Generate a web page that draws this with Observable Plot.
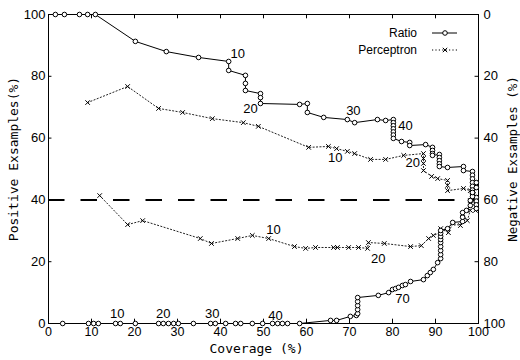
<!DOCTYPE html>
<html><head><meta charset="utf-8">
<script src="https://cdn.jsdelivr.net/npm/d3@7"></script>
<script src="https://cdn.jsdelivr.net/npm/@observablehq/plot@0.6"></script>
<style>body{margin:0;background:#fff}</style>
</head><body><div id="chart"></div>
<script>
const xTicks = [0,10,20,30,40,50,60,70,80,90,100];
const yTicks = [0,20,40,60,80,100];
const threshold = [40];

// Upper curves: negative examples (%) read on the right axis (0 at top): [coverage, negative]
const ratioNeg = [[1.6,0],[3.7,0],[7.2,0],[9.1,0],[10.9,0],[20.2,8.7],[27.4,12.0],[34.9,13.9],[41.9,15.2],[41.9,18.1],[45.8,19.7],[45.8,22.3],[45.8,24.6],[49.3,25.6],[49.3,26.9],[49.3,28.8],[58.4,29.1],[60.2,28.8],[60.2,31.7],[64.0,33.3],[69.5,34.0],[71.2,35.0],[76.5,34.0],[78.4,34.3],[80.2,34.0],[80.2,35.0],[80.2,36.0],[80.2,37.0],[80.2,38.0],[80.2,39.0],[80.2,40.1],[82.1,41.1],[84.0,41.4],[84.0,42.4],[87.7,42.1],[89.3,43.0],[89.3,44.0],[89.3,45.0],[89.3,45.6],[90.9,45.3],[90.9,46.3],[90.9,47.3],[90.9,48.3],[90.9,49.2],[92.8,49.5],[96.5,49.2],[96.5,50.5],[98.6,50.8],[98.6,52.0],[98.6,53.2],[98.6,54.4],[98.6,55.6],[98.6,56.8],[98.6,58.0],[99.5,59.2],[99.5,60.4],[99.5,61.6],[99.5,62.8]];
const percNeg = [[9.1,28.5],[18.4,23.3],[25.6,30.4],[31.2,31.7],[38.1,33.7],[45.3,35.0],[48.8,36.2],[60.5,43.0],[65.1,42.7],[67.0,43.4],[69.5,44.3],[71.2,45.0],[74.9,46.9],[78.4,46.9],[82.6,45.6],[87.2,45.0],[87.2,46.6],[87.2,48.2],[87.2,50.5],[89.1,52.4],[90.5,53.1],[92.8,53.7],[92.8,55.3],[92.8,57.0],[96.5,56.3],[98.1,57.0],[98.6,59.8],[99.3,63.4]];
// Lower curves: positive examples (%) on the left axis: [coverage, positive]
const ratioPos = [[3.3,0],[9.3,0],[10.5,0],[11.6,0],[15.6,0],[16.7,0],[20.2,0],[25.6,0],[26.7,0],[27.9,0],[29.1,0],[30.2,0],[33.7,0],[37.7,0],[38.8,0],[41.2,0],[43.5,0],[44.7,0],[47.4,0],[49.8,0],[52.1,0],[53.3,0],[54.4,0],[55.6,0],[58.4,0],[65.6,1.0],[67.0,1.0],[70.2,2.3],[71.6,2.6],[71.9,3.2],[71.9,4.5],[71.9,5.8],[71.9,7.1],[71.9,8.4],[76.7,9.1],[79.1,10.0],[80.0,11.0],[80.7,11.3],[81.4,11.7],[82.3,12.3],[83.0,12.6],[84.2,13.6],[87.2,14.2],[88.1,15.5],[88.8,16.5],[89.5,17.5],[90.5,19.7],[91.2,21.0],[91.2,22.3],[91.2,23.6],[91.2,24.9],[91.2,26.2],[91.2,27.2],[91.2,28.2],[91.2,29.2],[91.2,30.1],[92.8,30.7],[94.0,32.7],[96.3,33.0],[96.3,34.4],[96.3,35.9],[97.2,36.6],[98.1,38.2],[98.1,39.8],[98.6,41.1],[98.6,42.4],[99.5,44.0],[99.5,45.6]];
const percPos = [[11.9,41.4],[18.4,32.0],[21.9,33.3],[35.3,27.5],[37.9,25.9],[44.0,27.5],[47.4,28.5],[51.2,27.5],[57.2,24.9],[59.8,24.3],[62.1,24.6],[66.3,24.6],[67.2,24.6],[69.8,24.6],[72.1,24.6],[74.2,24.3],[74.4,26.2],[78.1,25.9],[84.2,24.9],[86.7,25.2],[88.4,27.5],[89.5,28.5],[91.2,29.4],[91.2,30.7],[93.0,29.4],[94.0,32.4],[95.8,31.7],[96.3,35.6],[97.4,33.3],[98.1,36.6],[98.1,39.8],[98.8,43.0],[99.5,45.6]];

// Annotation numbers
const ratioNegLabels = [[44.0,12.6,"10"],[47.0,30.4,"20"],[70.9,31.1,"30"],[83.0,35.9,"40"]];
const percNegLabels = [[66.7,46.3,"10"],[84.7,47.9,"20"]];
const percPosLabels = [[52.3,30.4,"10"],[76.7,21.0,"20"]];
const ratioPosLabels = [[16.0,3.2,"10"],[26.7,3.2,"20"],[38.1,3.2,"30"],[52.8,2.6,"40"],[82.3,8.1,"70"]];

const legendNames = ["Ratio","Perceptron"];

const neg = d => 100 - d[1];
const font = "Liberation Sans, Arial, sans-serif";
const mono = "DejaVu Sans Mono, monospace";

const chart = Plot.plot({
  width: 520, height: 360,
  marginTop: 14, marginRight: 42, marginBottom: 37, marginLeft: 48,
  style: {fontFamily: font, fontSize: "13px", background: "#fff", color: "#000", overflow: "visible"},
  x: {domain: [0,100]},
  y: {domain: [0,100]},
  marks: [
    Plot.frame({stroke: "#000", strokeWidth: 1}),
    // ticks pointing inward
    Plot.ruleX(xTicks.slice(1,-1), {x: d => d, y1: 0, y2: 1.4, stroke: "#000"}),
    Plot.ruleX(xTicks.slice(1,-1), {x: d => d, y1: 100, y2: 98.6, stroke: "#000"}),
    Plot.ruleY(yTicks.slice(1,-1), {y: d => d, x1: 0, x2: 0.8, stroke: "#000"}),
    Plot.ruleY(yTicks.slice(1,-1), {y: d => d, x1: 100, x2: 99.2, stroke: "#000"}),
    Plot.axisX({ticks: xTicks, tickSize: 0, tickPadding: 4, label: null, fontSize: 12.5}),
    Plot.axisY({ticks: yTicks, tickSize: 0, tickPadding: 3, label: null, fontSize: 13}),
    Plot.axisY({anchor: "right", ticks: yTicks, tickSize: 0, tickPadding: 5, tickFormat: d => 100 - d, label: null, fontSize: 13}),
    // threshold
    Plot.ruleY(threshold, {stroke: "#000", strokeWidth: 2, strokeDasharray: "16.5,16"}),
    // perceptron curves
    Plot.line(percNeg, {x: d => d[0], y: neg, stroke: "#222", strokeWidth: 1, strokeDasharray: "1.2,2.2"}),
    Plot.dot(percNeg, {x: d => d[0], y: neg, symbol: "times", r: 2.2, stroke: "#000", strokeWidth: 1}),
    Plot.line(percPos, {x: d => d[0], y: d => d[1], stroke: "#222", strokeWidth: 1, strokeDasharray: "1.2,2.2"}),
    Plot.dot(percPos, {x: d => d[0], y: d => d[1], symbol: "times", r: 2.2, stroke: "#000", strokeWidth: 1}),
    // ratio curves
    Plot.line(ratioNeg, {x: d => d[0], y: neg, stroke: "#000", strokeWidth: 1}),
    Plot.dot(ratioNeg, {x: d => d[0], y: neg, r: 2.3, stroke: "#000", fill: "#fff", strokeWidth: 1}),
    Plot.line(ratioPos, {x: d => d[0], y: d => d[1], stroke: "#000", strokeWidth: 1}),
    Plot.dot(ratioPos, {x: d => d[0], y: d => d[1], r: 2.3, stroke: "#000", fill: "#fff", strokeWidth: 1}),
    // annotation numbers
    Plot.text(ratioNegLabels, {x: d => d[0], y: neg, text: d => d[2], fontSize: 13, fill: "#000"}),
    Plot.text(percNegLabels, {x: d => d[0], y: neg, text: d => d[2], fontSize: 13, fill: "#000"}),
    Plot.text(percPosLabels, {x: d => d[0], y: d => d[1], text: d => d[2], fontSize: 13, fill: "#000"}),
    Plot.text(ratioPosLabels, {x: d => d[0], y: d => d[1], text: d => d[2], fontSize: 13, fill: "#000"}),
    // axis titles
    Plot.text(["Coverage (%)"], {frameAnchor: "bottom", lineAnchor: "top", dy: 20, dx: -7, fontFamily: mono, fontSize: 13, fill: "#000"}),
    Plot.text(["Positive Exsamples(%)"], {frameAnchor: "left", textAnchor: "middle", dx: -35, dy: -10, rotate: -90, fontFamily: mono, fontSize: 13, fill: "#000"}),
    Plot.text(["Negative Exsamples (%)"], {frameAnchor: "right", textAnchor: "middle", dx: 34, dy: -10, rotate: -90, fontFamily: mono, fontSize: 12.5, fill: "#000"})
  ]
});

document.getElementById("chart").appendChild(chart);

// legend
const svg = d3.select(chart);
const lg = svg.append("g").attr("font-family", font).attr("font-size", 12);
legendNames.forEach((name, i) => {
  const y = 33 + i * 17;
  lg.append("text").attr("x", 417).attr("y", y).attr("dy", "0.35em").attr("text-anchor", "end").text(name);
  lg.append("line").attr("x1", 432).attr("x2", 457).attr("y1", y).attr("y2", y)
    .attr("stroke", "#000").attr("stroke-width", 1).attr("stroke-dasharray", i ? "1.2,2.2" : null);
  if (i === 0) {
    lg.append("circle").attr("cx", 445).attr("cy", y).attr("r", 2.3).attr("fill", "#fff").attr("stroke", "#000");
  } else {
    lg.append("path").attr("d", `M442.8,${y-2.2}L447.2,${y+2.2}M442.8,${y+2.2}L447.2,${y-2.2}`).attr("stroke", "#000");
  }
});
</script>
</body></html>
